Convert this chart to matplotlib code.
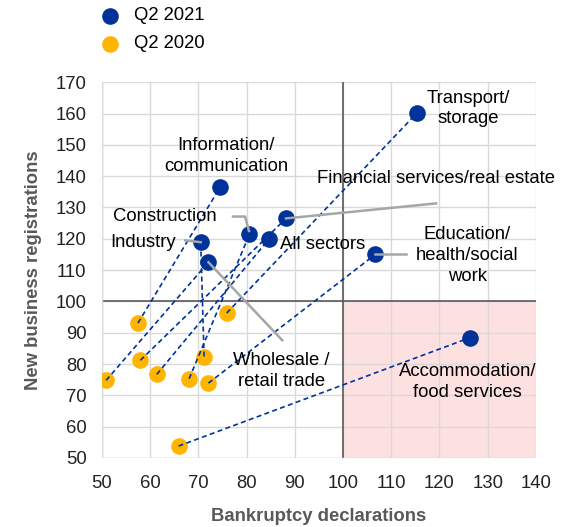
import numpy as np
import matplotlib.pyplot as plt
from matplotlib.patches import Rectangle

plt.rcParams['font.family'] = ['Liberation Sans', 'DejaVu Sans']

# sectors, Q2 2021 vs Q2 2020 (index, bankruptcies on x, new registrations on y)
sectors = ['Transport/storage', 'Information/communication',
           'Financial services/real estate', 'Construction', 'All sectors',
           'Industry', 'Wholesale/retail trade', 'Education/health/social work',
           'Accommodation/food services']
x_2021 = [115.4, 74.5, 88.2, 80.6, 84.7, 70.5, 72.1, 106.7, 126.3]
y_2021 = [160.3, 136.4, 126.5, 121.4, 120.0, 118.9, 112.5, 115.0, 88.4]
x_2020 = [75.9, 57.5, 58.0, 68.1, 61.4, 71.2, 50.9, 72.1, 65.9]
y_2020 = [96.3, 93.1, 81.2, 75.3, 76.7, 82.4, 74.8, 73.9, 53.8]

blue = '#003399'
yellow = '#FFB400'
grey_txt = '#595959'

fig = plt.figure(figsize=(5.72, 5.27), dpi=100)
ax = fig.add_axes([0.178, 0.131, 0.759, 0.713])

ax.set_xlim(50, 140)
ax.set_ylim(50, 170)
ax.set_xticks(np.arange(50, 141, 10))
ax.set_yticks(np.arange(50, 171, 10))
ax.set_axisbelow(True)
ax.grid(True, color='#D9D9D9', linewidth=1)
for s in ax.spines.values():
    s.set_visible(False)
ax.tick_params(axis='x', length=0, labelsize=13.3, colors='#222222', pad=12)
ax.tick_params(axis='y', length=0, labelsize=13.3, colors='#222222', pad=11)

# shaded quadrant
ax.add_patch(Rectangle((100, 50), 40, 50, facecolor='#FDE0E0', edgecolor='none', zorder=0))
ax.axhline(100, color='#595959', linewidth=1.2, zorder=1)
ax.axvline(100, color='#595959', linewidth=1.2, zorder=1)
ax.plot([50, 50], [50, 170], color='#D9D9D9', linewidth=1, zorder=1)
ax.plot([50, 140], [50, 50], color='#D9D9D9', linewidth=1, zorder=1)

# connecting dashed lines
for i in range(len(sectors)):
    ax.plot([x_2020[i], x_2021[i]], [y_2020[i], y_2021[i]], color=blue,
            linestyle=(0, (3, 2)), linewidth=1.2, zorder=3)

ax.scatter(x_2021, y_2021, s=120, color=blue, zorder=2, label='Q2 2021')
ax.scatter(x_2020, y_2020, s=120, color=yellow, zorder=2, label='Q2 2020')

# leader lines
lc = '#A6A6A6'
ax.plot([77.2, 79.7, 80.5], [127.1, 127.1, 122.5], color=lc, lw=1.8, zorder=4)
ax.plot([67.3, 70.5], [119.5, 118.9], color=lc, lw=1.8, zorder=4)
ax.plot([88.2, 119.3], [126.5, 131.3], color=lc, lw=1.8, zorder=4)
ax.plot([106.7, 113.1], [115.0, 115.0], color=lc, lw=1.8, zorder=4)
ax.plot([72.1, 87.4], [112.5, 87.6], color=lc, lw=1.8, zorder=4)

fs = 13.3
ls = 1.3
ax.text(126.0, 161.6, 'Transport/\nstorage', fontsize=fs, ha='center', va='center', linespacing=ls)
ax.text(75.8, 146.3, 'Information/\ncommunication', fontsize=fs, ha='center', va='center', linespacing=ls)
ax.text(94.7, 139.3, 'Financial services/real estate', fontsize=fs, ha='left', va='center')
ax.text(52.3, 127.1, 'Construction', fontsize=fs, ha='left', va='center')
ax.text(51.7, 118.8, 'Industry', fontsize=fs, ha='left', va='center')
ax.text(87.0, 118.2, 'All sectors', fontsize=fs, ha='left', va='center')
ax.text(125.8, 114.7, 'Education/\nhealth/social\nwork', fontsize=fs, ha='center', va='center', linespacing=ls)
ax.text(87.2, 77.7, 'Wholesale /\nretail trade', fontsize=fs, ha='center', va='center', linespacing=ls)
ax.text(125.8, 74.2, 'Accommodation/\nfood services', fontsize=fs, ha='center', va='center', linespacing=ls)

ax.set_xlabel('Bankruptcy declarations', fontsize=13.3, fontweight='bold', color=grey_txt, labelpad=12)
ax.set_ylabel('New business registrations', fontsize=13.3, fontweight='bold', color=grey_txt, labelpad=10)

fig.legend(loc='upper left', bbox_to_anchor=(0.1475, 1.0), frameon=False, fontsize=13.3,
           handletextpad=0.3, labelspacing=0.6, borderaxespad=0)

fig.savefig('out.png', dpi=100)
